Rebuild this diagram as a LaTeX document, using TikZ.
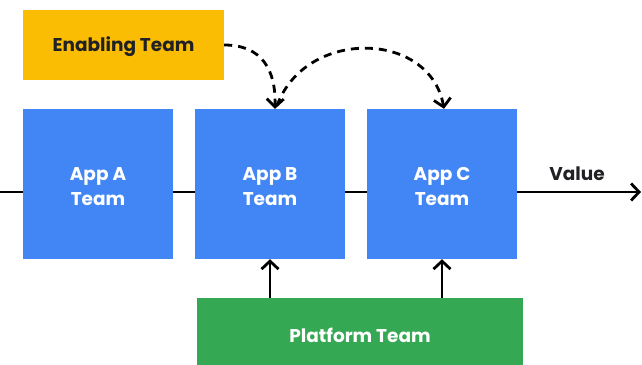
\documentclass[tikz,border=0pt]{standalone}
\usepackage{fontspec}
\setmainfont{Poppins}
\usetikzlibrary{arrows.meta}
\definecolor{gblue}{HTML}{4285F4}
\definecolor{ggreen}{HTML}{34A853}
\definecolor{gyellow}{HTML}{FBBC04}
\definecolor{gtext}{HTML}{202124}
\tikzset{
  box/.style={fill=#1, draw=none, inner sep=0pt},
  lbl/.style={align=center, inner sep=0pt, font=\fontsize{18.5}{25}\selectfont\bfseries},
  appbox/.style={box=gblue, minimum width=150pt, minimum height=150pt},
  conn/.style={line width=2.8pt, draw=black},
  tip/.style={-{Straight Barb[length=8pt,width=17pt,line width=2.8pt]}},
  dsh/.style={dash pattern=on 8pt off 6pt},
}
\begin{document}
\begin{tikzpicture}[x=1pt,y=-1pt]
\useasboundingbox (0,0) rectangle (642,364);
\node[box=gyellow, minimum width=201pt, minimum height=70pt] (en) at (123.5,45) {};
\node[lbl, text=gtext] (ent) at (123.5,47) {Enabling Team};
\node[appbox] (a) at (98,184) {};
\node[appbox] (b) at (270,184) {};
\node[appbox] (c) at (442,184) {};
\node[lbl, text=white] (at) at (98,187) {App A\\Team};
\node[lbl, text=white] (bt) at (270,187) {App B\\Team};
\node[lbl, text=white] (ct) at (442,187) {App C\\Team};
\node[box=ggreen, minimum width=326pt, minimum height=70pt] (p) at (360,333) {};
\node[lbl, text=white] (pt) at (360,335) {Platform Team};
\coordinate (l) at (0,192);
\coordinate (r) at (642,192);
\node[lbl, text=gtext] (v) at (577,174) {Value};
\draw[conn] (l) -- (a.west |- l);
\draw[conn] (a.east |- l) -- (b.west |- l);
\draw[conn] (b.east |- l) -- (c.west |- l);
\draw[conn, tip] (c.east |- l) -- ([xshift=-1pt]r);
\draw[conn, tip] (p.north -| b) -- (b.south);
\draw[conn, tip] (p.north -| c) -- (c.south);
\draw[conn, tip, dsh] (en.east) .. controls (262,45) and (276,70) .. ([xshift=5pt]b.north);
\draw[conn, tip, dsh] ([xshift=7pt,yshift=3pt]b.north) .. controls (305,28) and (430,30) .. ([xshift=2pt]c.north);
\end{tikzpicture}
\end{document}
